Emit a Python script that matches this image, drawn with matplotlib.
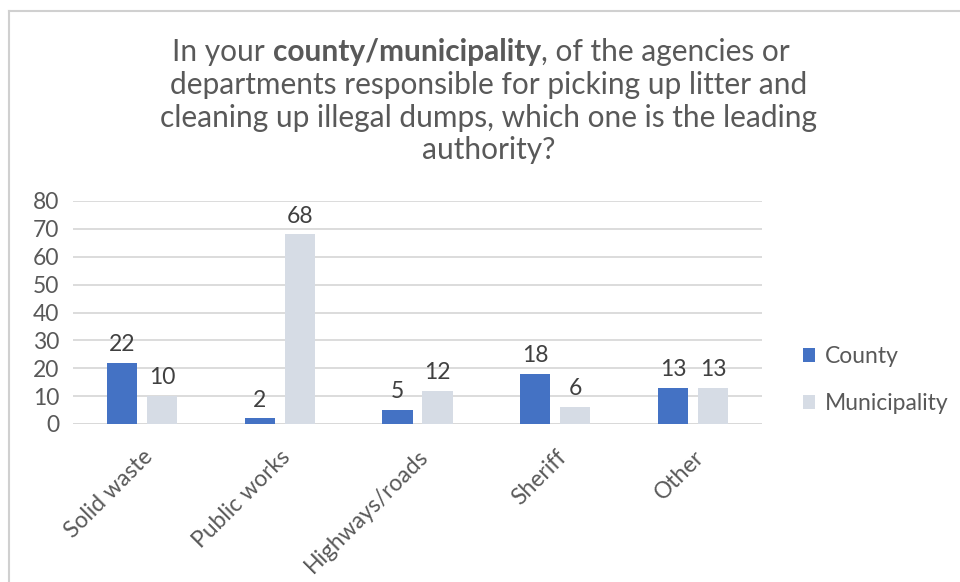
import matplotlib
matplotlib.use("Agg")
import matplotlib.pyplot as plt
from matplotlib.lines import Line2D
import numpy as np

plt.rcParams['font.family'] = ['Lato', 'DejaVu Sans']

categories = ["Solid waste", "Public works", "Highways/roads", "Sheriff", "Other"]
county = [22, 2, 5, 18, 13]
municipality = [10, 68, 12, 6, 13]
yticks = [0, 10, 20, 30, 40, 50, 60, 70, 80]

blue = "#4472C4"
light = "#D6DCE5"
grey_text = "#595959"
grid_col = "#D9D9D9"
fs = 16.5

fig = plt.figure(figsize=(9.6, 5.82), dpi=100)
ax = fig.add_axes([73 / 960, 1 - 424 / 582, (762 - 73) / 960, (424 - 201) / 582])

x = np.arange(len(categories))
w = 0.22
off = 0.145
b1 = ax.bar(x - off, county, w, color=blue, label="County", zorder=3)
b2 = ax.bar(x + off, municipality, w, color=light, label="Municipality", zorder=3)

for bars, vals in ((b1, county), (b2, municipality)):
    for r, v in zip(bars, vals):
        ax.text(r.get_x() + r.get_width() / 2, v + 2.8, str(v), ha="center", va="bottom",
                fontsize=fs, color="#404040")

ax.set_xlim(-0.5, len(categories) - 0.5)
ax.set_ylim(0, 80)
ax.set_yticks(yticks)
ax.grid(axis="y", color=grid_col, linewidth=1.3, zorder=0)
for s in ax.spines.values():
    s.set_visible(False)
ax.axhline(0, color=grid_col, linewidth=1.3, zorder=2)
ax.tick_params(axis="both", length=0, labelsize=fs, colors=grey_text)
ax.tick_params(axis="y", pad=10)
ax.set_xticks(x)
ax.set_xticklabels(categories, rotation=45, ha="right", rotation_mode="anchor")
ax.tick_params(axis="x", pad=16)

# title: first line built from three pieces so the middle one can be bold
tsize = 21.5
pieces = [("In your ", "normal"), ("county/municipality", "bold"),
          (", of the agencies or", "normal")]
fig.canvas.draw()
renderer = fig.canvas.get_renderer()
texts = []
for s, wt in pieces:
    t = fig.text(0, 1 - 52 / 582, s, ha="left", va="center", fontsize=tsize,
                 color=grey_text, fontweight=wt)
    texts.append(t)
widths = [t.get_window_extent(renderer).width for t in texts]
xpos = 481 - sum(widths) / 2
for t, wd in zip(texts, widths):
    t.set_x(xpos / 960)
    xpos += wd

title_rest = ["departments responsible for picking up litter and",
              "cleaning up illegal dumps, which one is the leading",
              "authority?"]
for i, line in enumerate(title_rest):
    fig.text(489 / 960, 1 - (85 + i * 32.7) / 582, line, ha="center", va="center",
             fontsize=tsize, color=grey_text)

ax.legend(loc="center left", bbox_to_anchor=(782 / 960, 1 - 380 / 582),
          bbox_transform=fig.transFigure, frameon=False, fontsize=fs,
          labelcolor=grey_text, handlelength=0.55, handleheight=0.55,
          handletextpad=0.4, labelspacing=1.15)

# outer chart frame (top and left edges only)
fig.add_artist(Line2D([9 / 960, 1], [1 - 11 / 582, 1 - 11 / 582], color="#D0D0D0",
                      linewidth=1.5, transform=fig.transFigure))
fig.add_artist(Line2D([9 / 960, 9 / 960], [0, 1 - 11 / 582], color="#D0D0D0",
                      linewidth=1.5, transform=fig.transFigure))

fig.savefig("out.png", dpi=100)
